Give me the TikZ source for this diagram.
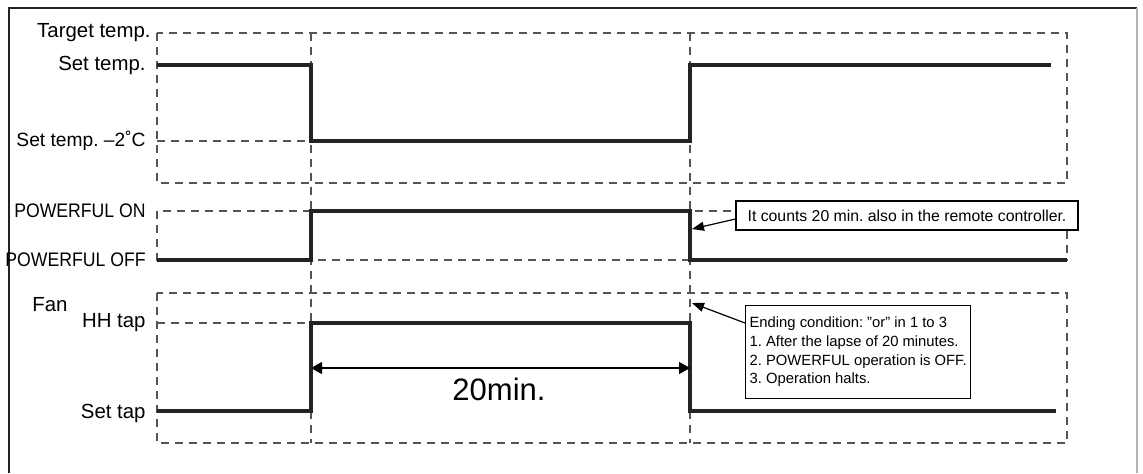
\documentclass[tikz,border=0pt]{standalone}
\usepackage{fontspec}
\setmainfont{Liberation Sans}
\usepackage{tikz}
\usetikzlibrary{arrows.meta, positioning, calc}
\definecolor{GuideGray}{RGB}{85,85,85}
\definecolor{WaveBlack}{RGB}{35,35,35}
\frenchspacing

\begin{document}
\begin{tikzpicture}[x=0.5pt, y=-0.5pt,
	wave/.style={line width=1.6pt, WaveBlack},
	guide/.style={GuideGray, line width=0.7pt, dash pattern=on 4pt off 3pt},
	lvl/.style={anchor=east, inner sep=0pt, font=\fontsize{10.2}{12}\selectfont},
	pwr/.style={anchor=east, inner sep=0pt, font=\fontsize{9.8}{11}\selectfont},
	callout/.style={draw, fill=white, line width=0.6pt, inner sep=0pt,
		font=\fontsize{7.9}{9.4}\selectfont},
	pointer/.style={line width=0.6pt, -{Triangle[length=6pt, width=4.5pt]}}]

	\useasboundingbox (0,0) rectangle (1143,473);
	\draw[line width=0.7pt, WaveBlack] (9,473) -- (9,8) -- (1137,8);
	\draw[line width=0.7pt, black!30] (1137,8) -- (1137,473);

	% time marks and levels
	\coordinate (t0) at (157,0);
	\coordinate (t1) at (311,0);
	\coordinate (t2) at (690,0);
	\coordinate (t3) at (1067,0);
	\coordinate (target) at (0,33);
	\coordinate (set) at (0,65);
	\coordinate (setlow) at (0,141);
	\coordinate (tbot) at (0,183);
	\coordinate (pon) at (0,211);
	\coordinate (poff) at (0,260);
	\coordinate (ftop) at (0,293);
	\coordinate (hh) at (0,323);
	\coordinate (settap) at (0,411);
	\coordinate (fbot) at (0,443);
	\coordinate (span) at (0,368);

	% dashed guides
	\draw[guide] (t0 |- target) rectangle (t3 |- tbot);
	\draw[guide] (t0 |- pon) rectangle (t3 |- poff);
	\draw[guide] (t0 |- ftop) rectangle (t3 |- fbot);
	\draw[guide] (t1 |- target) -- (t1 |- fbot);
	\draw[guide] (t2 |- target) -- (t2 |- fbot);
	\draw[guide] (t0 |- setlow) -- (t1 |- setlow);
	\draw[guide] (t0 |- hh) -- (t1 |- hh);

	% signals
	\draw[wave] (t0 |- set) -- (t1 |- set) -- (t1 |- setlow) -- (t2 |- setlow)
		-- (t2 |- set) -- ++(361,0);
	\draw[wave] (t0 |- poff) -- (t1 |- poff) -- (t1 |- pon) -- (t2 |- pon)
		-- (t2 |- poff) -- (t3 |- poff);
	\draw[wave] (t0 |- settap) -- (t1 |- settap) -- (t1 |- hh) -- (t2 |- hh)
		-- (t2 |- settap) -- ++(366,0);

	% level labels
	\node[lvl] (lblTarget) at (151,33) {Target temp.};
	\node[lvl] (lblSet) at (146,65) {Set temp.};
	\node[lvl, font=\fontsize{9.6}{12}\selectfont] (lblLow) at (146,141) {Set temp. –2˚C};
	\node[pwr] (lblOn) at (146,211) {\scalebox{0.9}[1]{POWERFUL ON}};
	\node[pwr] (lblOff) at (146,260) {\scalebox{0.9}[1]{POWERFUL OFF}};
	\node[lvl, anchor=west] (lblFan) at (32,305) {Fan};
	\node[lvl] (lblHH) at (146,323) {HH tap};
	\node[lvl] (lblTap) at (146,413) {Set tap};

	% 20 min span
	\draw[line width=0.6pt, {Triangle[length=5.5pt, width=6pt]}-{Triangle[length=5.5pt, width=6pt]}]
		(t1 |- span) -- (t2 |- span);
	\node[font=\fontsize{15.5}{18}\selectfont] (lblSpan) at (499,389) {20min.};

	% notes
	\coordinate (countTip) at (692,229);
	\coordinate (endTip) at (692,303);
	\node[callout, minimum width=171pt, minimum height=14.5pt] (noteCount) at (907,215.5)
		{It counts 20 min. also in the remote controller.};
	\draw[pointer] ($(noteCount.west)+(0,3.5)$) -- (countTip);
	\node[callout, anchor=north west, inner xsep=2pt, minimum height=46.5pt,
		align=left, font=\fontsize{7.4}{9.35}\selectfont] (noteEnd) at (745,305)
		{Ending condition: \symbol{34}or\symbol{34} in 1 to 3\\1. After the lapse of 20 minutes.\\
		2. POWERFUL operation is OFF.\\3. Operation halts.};
	\draw[pointer] ($(noteEnd.north west)+(0,18)$) -- (endTip);
\end{tikzpicture}
\end{document}
